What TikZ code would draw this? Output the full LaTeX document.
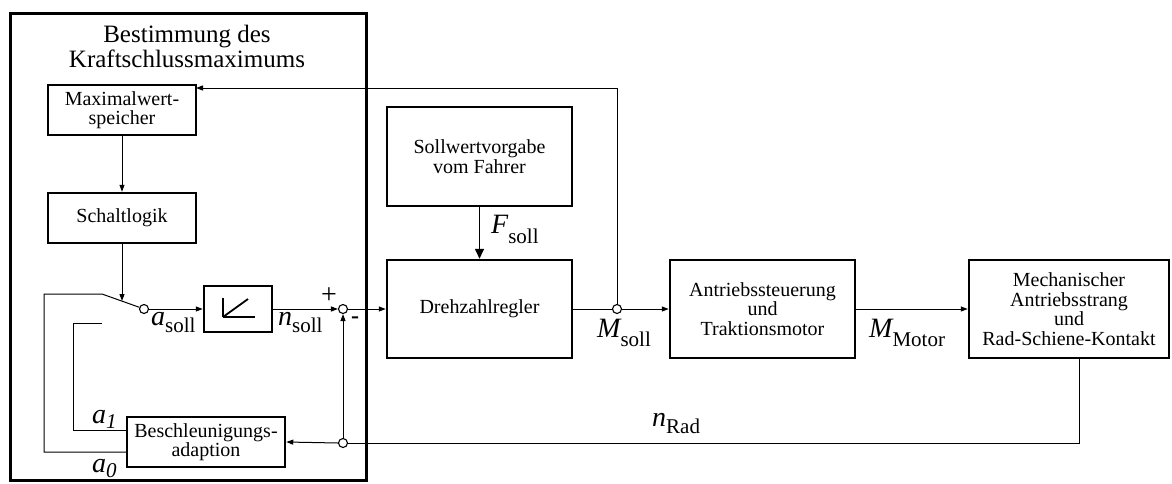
\documentclass[tikz,border=0pt]{standalone}
\usepackage{fontspec}
\setmainfont{Liberation Serif}
\usetikzlibrary{arrows.meta,calc}
\newcommand\lbl[3][8]{{\fontsize{28}{28}\selectfont\itshape #2}\raisebox{-#1pt}{\fontsize{21}{21}\selectfont #3}}
\begin{document}
\begin{tikzpicture}[x=1pt,y=-1pt,
  box/.style={draw,line width=2.5pt,inner sep=0pt,align=center,font=\fontsize{20}{19.5}\selectfont},
  conn/.style={line width=1pt},
  arr/.style={conn,-{Triangle[length=7pt,width=5pt]}},
  bigarr/.style={line width=1.6pt,-{Triangle[length=10pt,width=9pt]}},
  junc/.style={circle,draw,line width=1.1pt,fill=white,minimum size=9pt,inner sep=0pt},
  lab/.style={inner sep=0pt,anchor=base west}]
\useasboundingbox (0,0) rectangle (1172,483);
\fill[white] (0,0) rectangle (1172,483);

% outer frame
\node[draw,line width=3pt,minimum width=356pt,minimum height=467pt,inner sep=0pt] (outer) at (188,246.5) {};
\node[inner sep=0pt,align=center,font=\fontsize{25}{25}\selectfont] (title) at (187,46) {Bestimmung des\\Kraftschlussmaximums};

% boxes
\node[box,minimum width=148pt,minimum height=50pt] (max) at (122,110) {Maximalwert-\\speicher};
\node[box,minimum width=148pt,minimum height=50pt] (sch) at (122,218) {Schaltlogik};
\node[box,minimum width=68pt,minimum height=46pt] (int) at (238,309) {};
\node[box,minimum width=158pt,minimum height=50pt] (bes) at (206,442) {Beschleunigungs-\\adaption};
\node[box,minimum width=185pt,minimum height=99pt] (soll) at (479.5,156.5) {Sollwertvorgabe\\vom Fahrer};
\node[box,minimum width=185pt,minimum height=98pt] (dreh) at (479.5,309) {Drehzahlregler};
\node[box,minimum width=185pt,minimum height=98pt] (ant) at (762.5,309) {Antriebssteuerung\\und\\Traktionsmotor};
\node[box,minimum width=200pt,minimum height=98pt] (mech) at (1069,309) {Mechanischer\\Antriebsstrang\\und\\Rad-Schiene-Kontakt};

% ramp symbol
\draw[line width=1.8pt] ($(int.center)+(-15,-11)$) -- ($(int.center)+(-15,8)$);
\draw[line width=1.8pt] ($(int.center)+(-15,8)$) -- ($(int.center)+(17,8)$);
\draw[line width=1.8pt] ($(int.center)+(-15,8)$) -- ($(int.center)+(10,-10)$);

% junctions
\node[junc] (sw) at (144,309) {};
\node[junc] (sum) at (343,309) {};
\node[junc] (fb) at (343,443) {};
\node[junc] (ms) at (617,309) {};

% coordinates
\coordinate (a1out) at (127,430);
\coordinate (a0out) at (127,452);
\coordinate (a1c) at (73,323);
\coordinate (a1e) at (102,323);
\coordinate (a0c) at (44,294);
\coordinate (a0e) at (102,294);
\coordinate (swin) at (122,301);
\coordinate (maxin) at (196,88);
\coordinate (mout) at (1079,358);

% connectors
\draw[arr] (max.south) -- (sch.north);
\draw[arr] (sch.south) -- (swin);
\draw[conn] (a1out) -| (a1c) -- (a1e);
\draw[conn] (a0out) -| (a0c) -- (a0e) -- (sw.160);
\draw[arr] (sw.east) -- (int.west);
\draw[arr] (int.east) -- (sum.west);
\draw[arr] (sum.east) -- (dreh.west);
\draw[bigarr] (soll.south) -- (dreh.north);
\draw[conn] (dreh.east) -- (ms.west);
\draw[arr] (ms.east) -- (ant.west);
\draw[arr] (ms.north) |- (maxin);
\draw[arr] (ant.east) -- (mech.west);
\draw[conn] (mout) |- (fb.east);
\draw[arr] (fb.west) -- (bes.east);
\draw[arr] (fb.north) -- (sum.south);

% labels
\node[lab] (lasoll) at (151,325) {\lbl[7]{a}{soll}};
\node[lab] (lnsoll) at (278,325) {\lbl[7]{n}{soll}};
\node[lab] (lfsoll) at (491,233) {\lbl[10]{F}{soll}};
\node[lab] (lmsoll) at (597,337) {\lbl[9]{M}{soll}};
\node[lab] (lmmot) at (869,337) {\lbl[9]{M}{Motor}};
\node[lab] (lnrad) at (652,426) {\lbl[7]{n}{Rad}};
\node[lab] (la1) at (92,423) {\lbl[5]{a}{\itshape 1}};
\node[lab] (la0) at (92,472) {\lbl[5]{a}{\itshape 0}};
\node[inner sep=0pt,font=\fontsize{28}{28}\selectfont] (plus) at (329,296) {+};
\node[inner sep=0pt,font=\fontsize{24}{24}\selectfont\bfseries] (minus) at (355,320) {-};
\end{tikzpicture}
\end{document}
